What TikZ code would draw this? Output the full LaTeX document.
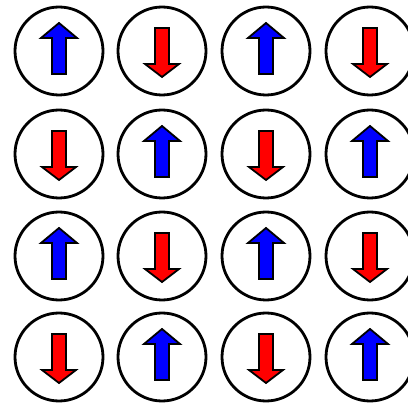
\documentclass[tikz,border=0pt]{standalone}
\begin{document}
\begin{tikzpicture}[x=1pt,y=1pt,
  ring/.style={draw=black,line width=2.8pt,fill=white},
  uparrow/.style={draw=black,line width=1.8pt,fill=blue,line join=miter},
  downarrow/.style={draw=black,line width=1.8pt,fill=red,line join=miter}]
\useasboundingbox (0,0) rectangle (408,-404);
\clip (0,0) rectangle (408,-404);
\fill[white] (0,0) rectangle (408,-404);
\foreach \i/\cy in {0/-51,1/-154,2/-256,3/-357}{
  \foreach \j/\cx in {0/59,1/162,2/266,3/370}{
    \draw[ring] (\cx,\cy) circle (44);
    \pgfmathtruncatemacro{\parity}{mod(\i+\j,2)}
    \ifnum\parity=0
      \draw[uparrow] (\cx,\cy) ++(0,28) -- ++(-18,-15) -- ++(11,0) -- ++(0,-36) -- ++(14,0) -- ++(0,36) -- ++(11,0) -- cycle;
    \else
      \draw[downarrow] (\cx,\cy) ++(0,-26) -- ++(-17,13) -- ++(10,0) -- ++(0,36) -- ++(14,0) -- ++(0,-36) -- ++(10,0) -- cycle;
    \fi
  }
}
\end{tikzpicture}
\end{document}
